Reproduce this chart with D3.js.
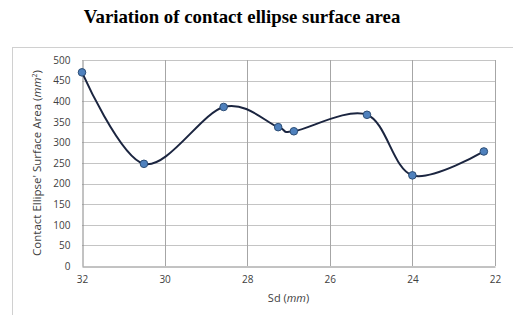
<!DOCTYPE html>
<html>
<head>
<meta charset="utf-8">
<script src="https://cdn.jsdelivr.net/npm/d3@7"></script>
<style>
  body { margin: 0; background: #fff; }
  svg { display: block; }
</style>
</head>
<body>
<svg id="chart" width="513" height="315"></svg>
<script>
// chart values
const sdValues   = [32, 30.5, 28.57, 27.25, 26.87, 25.1, 24.0, 22.27];
const areaValues = [470, 248, 386, 337, 327, 367, 220, 278];
const xTicks = [32, 30, 28, 26, 24, 22];
const yTicks = [0, 50, 100, 150, 200, 250, 300, 350, 400, 450, 500];

const svg = d3.select("#chart");
const W = 513, H = 315;
const margin = { top: 60, right: 18, bottom: 49, left: 82 };

// outer chart frame (runs off the page on the right / bottom)
svg.append("rect")
  .attr("x", 12.5).attr("y", 47.5)
  .attr("width", 520).attr("height", 300)
  .attr("fill", "none")
  .attr("stroke", "#d0d0d0");

// title
svg.append("text")
  .attr("x", 242).attr("y", 23)
  .attr("text-anchor", "middle")
  .style("font-family", "'Liberation Serif', 'Times New Roman', serif")
  .style("font-weight", "bold")
  .style("font-size", "18.8px")
  .text("Variation of contact ellipse surface area");

const x = d3.scaleLinear().domain([32, 22]).range([margin.left, W - margin.right]);
const y = d3.scaleLinear().domain([0, 500]).range([H - margin.bottom, margin.top]);

const g = svg.append("g");

// gridlines
g.selectAll("line.hgrid")
  .data(yTicks.filter(d => d > 0))
  .join("line")
    .attr("class", "hgrid")
    .attr("x1", x(32)).attr("x2", x(22))
    .attr("y1", d => Math.round(y(d)) + 0.5).attr("y2", d => Math.round(y(d)) + 0.5)
    .attr("stroke", "#c4c4c4");

g.selectAll("line.vgrid")
  .data(xTicks.filter(d => d !== 32))
  .join("line")
    .attr("class", "vgrid")
    .attr("x1", d => Math.round(x(d)) + 0.5).attr("x2", d => Math.round(x(d)) + 0.5)
    .attr("y1", y(0)).attr("y2", y(500))
    .attr("stroke", "#a6a6a6");

// axes (domain lines + labels)
const yAxis = d3.axisLeft(y).tickValues(yTicks).tickSize(0).tickPadding(12);
const xAxis = d3.axisBottom(x).tickValues(xTicks).tickSize(0).tickPadding(9);

const yg = svg.append("g")
  .attr("transform", `translate(${Math.round(x(32)) + 0.5},0)`)
  .call(yAxis);
const xg = svg.append("g")
  .attr("transform", `translate(0,${Math.round(y(0)) + 0.5})`)
  .call(xAxis);

[yg, xg].forEach(a => {
  a.select(".domain").attr("stroke", "#868686");
  a.selectAll("text")
    .attr("fill", "#404040")
    .style("font-family", "'Open Sans', 'Liberation Sans', sans-serif")
    .style("font-size", "10px");
});

// axis titles
const xt = svg.append("text")
  .attr("x", (x(32) + x(22)) / 2).attr("y", 302)
  .attr("text-anchor", "middle")
  .attr("fill", "#404040")
  .style("font-family", "'Open Sans', 'Liberation Sans', sans-serif")
  .style("font-size", "11px");
xt.append("tspan").text("Sd (");
xt.append("tspan").style("font-style", "italic").text("mm");
xt.append("tspan").text(")");

const yt = svg.append("text")
  .attr("transform", `translate(41,${(y(0) + y(500)) / 2}) rotate(-90)`)
  .attr("text-anchor", "middle")
  .attr("fill", "#404040")
  .style("font-family", "'Open Sans', 'Liberation Sans', sans-serif")
  .style("font-size", "11.5px");
yt.append("tspan").text("Contact Ellipse' Surface Area (");
yt.append("tspan").style("font-style", "italic").text("mm");
yt.append("tspan").attr("dy", -4).style("font-size", "7px").text("2");
yt.append("tspan").attr("dy", 4).text(")");

// smoothed line
const data = sdValues.map((s, i) => ({ sd: s, area: areaValues[i] }));
const line = d3.line()
  .x(d => x(d.sd))
  .y(d => y(d.area))
  .curve(d3.curveCardinal.tension(0));

svg.append("path")
  .datum(data)
  .attr("d", line)
  .attr("fill", "none")
  .attr("stroke", "#1b2540")
  .attr("stroke-width", 2);

// markers
svg.selectAll("circle.pt")
  .data(data)
  .join("circle")
    .attr("class", "pt")
    .attr("cx", d => x(d.sd))
    .attr("cy", d => y(d.area))
    .attr("r", 3.8)
    .attr("fill", "#4f81bd")
    .attr("stroke", "#2c4d75")
    .attr("stroke-width", 1);
</script>
</body>
</html>
